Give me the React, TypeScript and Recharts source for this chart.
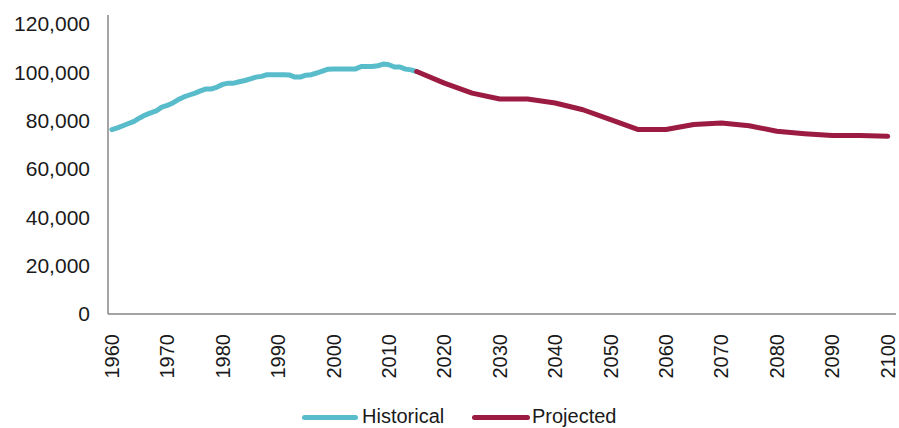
import React from 'react';
import { LineChart, Line, XAxis, YAxis, Legend } from 'recharts';

const histYears = Array.from({ length: 56 }, (_, i) => 1960 + i);
const histValues = [
  76300, 77000, 77900, 78800, 79700, 81100, 82300, 83200, 84000, 85600,
  86300, 87300, 88700, 89800, 90600, 91400, 92300, 93100, 93100, 93900,
  95000, 95500, 95500, 96100, 96600, 97300, 98000, 98300, 99000, 99000,
  99000, 99000, 98900, 98000, 98000, 98800, 99000, 99700, 100500, 101300,
  101400, 101400, 101400, 101400, 101400, 102400, 102400, 102400, 102700, 103400,
  103100, 102200, 102200, 101300, 101000, 100300,
];

const projYears = [2015, 2020, 2025, 2030, 2035, 2040, 2045, 2050, 2055, 2060, 2065, 2070, 2075, 2080, 2085, 2090, 2095, 2100];
const projValues = [100300, 95500, 91400, 88950, 88950, 87300, 84500, 80400, 76300, 76300, 78400, 79000, 77900, 75600, 74600, 73800, 73800, 73500];

const xTicks = [1960, 1970, 1980, 1990, 2000, 2010, 2020, 2030, 2040, 2050, 2060, 2070, 2080, 2090, 2100];
const yTicks = [0, 20000, 40000, 60000, 80000, 100000, 120000];

const HIST_COLOR = '#58bccb';
const PROJ_COLOR = '#9b1b42';
const FONT = '"Liberation Sans", Arial, sans-serif';

// merge both series onto one year table
const rowMap = new Map<number, { year: number; historical?: number; projected?: number }>();
histYears.forEach((y, i) => rowMap.set(y, { year: y, historical: histValues[i] }));
projYears.forEach((y, i) => {
  const row = rowMap.get(y) || { year: y };
  row.projected = projValues[i];
  rowMap.set(y, row);
});
const data = Array.from(rowMap.values()).sort((a, b) => a.year - b.year);

const YearTick = (props: any) => {
  const { x, y, payload } = props;
  return (
    <text
      transform={`translate(${x},${y + 18}) rotate(-90)`}
      textAnchor="end"
      dominantBaseline="central"
      fontSize={20}
      fontFamily={FONT}
      fill="#1a1a1a"
    >
      {payload.value}
    </text>
  );
};

const ChartLegend = () => (
  <div style={{ position: 'relative', width: 899, height: 30, fontFamily: FONT, fontSize: 20, color: '#1a1a1a' }}>
    <div style={{ position: 'absolute', left: 302, top: 17, width: 56, height: 5, borderRadius: 3, background: HIST_COLOR }} />
    <div style={{ position: 'absolute', left: 362, top: 8, lineHeight: '20px' }}>Historical</div>
    <div style={{ position: 'absolute', left: 472, top: 17, width: 58, height: 5, borderRadius: 3, background: PROJ_COLOR }} />
    <div style={{ position: 'absolute', left: 532, top: 8, lineHeight: '20px' }}>Projected</div>
  </div>
);

export default function App() {
  return (
    <div style={{ position: 'absolute', left: 0, top: 0, background: '#fff' }}>
      <LineChart width={899} height={428} data={data} margin={{ top: 15, right: 3, bottom: 0, left: 8 }}>
        <XAxis
          dataKey="year"
          type="number"
          domain={[1959.3, 2101.5]}
          ticks={xTicks}
          tick={<YearTick />}
          tickLine={false}
          tickSize={0}
          height={84}
          axisLine={{ stroke: '#868686', strokeWidth: 1.5 }}
          interval={0}
        />
        <YAxis
          type="number"
          domain={[0, 123700]}
          ticks={yTicks}
          width={100}
          tickLine={false}
          tickSize={0}
          tickMargin={18}
          axisLine={{ stroke: '#868686', strokeWidth: 1.5 }}
          tickFormatter={(v: number) => v.toLocaleString('en-US')}
          tick={{ fontSize: 21, fontFamily: FONT, fill: '#1a1a1a' }}
          interval={0}
        />
        <Legend verticalAlign="bottom" height={30} content={<ChartLegend />} wrapperStyle={{ left: 0, width: 899 }} />
        <Line
          dataKey="historical"
          stroke={HIST_COLOR}
          strokeWidth={5}
          dot={false}
          activeDot={false}
          strokeLinejoin="round"
          strokeLinecap="round"
          isAnimationActive={false}
        />
        <Line
          dataKey="projected"
          stroke={PROJ_COLOR}
          strokeWidth={5}
          dot={false}
          activeDot={false}
          connectNulls
          strokeLinejoin="round"
          strokeLinecap="round"
          isAnimationActive={false}
        />
      </LineChart>
    </div>
  );
}
